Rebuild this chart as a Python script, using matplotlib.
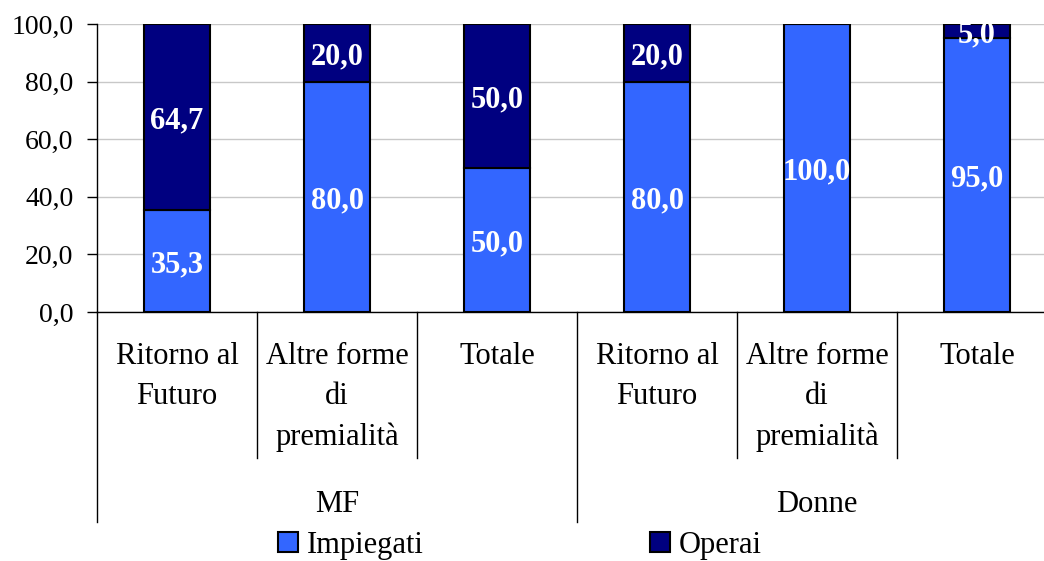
import matplotlib
matplotlib.use("Agg")
import matplotlib.pyplot as plt
from matplotlib.patches import Patch
from matplotlib.ticker import FuncFormatter

plt.rcParams["font.family"] = ["Liberation Serif", "DejaVu Serif"]

groups = ["MF", "Donne"]
categories = ["Ritorno al\nFuturo", "Altre forme\ndi\npremialità", "Totale"] * 2
impiegati = [35.3, 80.0, 50.0, 80.0, 100.0, 95.0]
operai = [64.7, 20.0, 50.0, 20.0, 0.0, 5.0]

c_imp = "#3366FF"
c_ope = "#000080"


def fmt(v):
    return f"{v:.1f}".replace(".", ",")


fig = plt.figure(figsize=(10.44, 5.61), dpi=100)
ax = fig.add_axes([97 / 1044, 1 - 312 / 561, 960 / 1044, 288 / 561])

x = list(range(len(categories)))
ax.bar(x, impiegati, width=0.41, color=c_imp, edgecolor="black", linewidth=1.5, zorder=3)
ax.bar(x, operai, width=0.41, bottom=impiegati, color=c_ope, edgecolor="black", linewidth=1.5, zorder=3)

# value labels, a touch below the segment middle like the original
for xi, a, b in zip(x, impiegati, operai):
    for val, mid in [(a, a / 2), (b, a + b / 2)]:
        if val <= 0:
            continue
        ax.annotate(fmt(val), (xi, mid), xytext=(0, -3), textcoords="offset points",
                    ha="center", va="center", color="white", fontsize=22,
                    fontweight="bold", zorder=4, annotation_clip=False, clip_on=True)

ax.set_xlim(-0.5, len(categories) - 0.5)
ax.set_ylim(0, 100)
ax.set_yticks([0, 20, 40, 60, 80, 100])
ax.yaxis.set_major_formatter(FuncFormatter(lambda v, p: fmt(v)))
ax.tick_params(axis="y", labelsize=20, length=7, width=1, pad=10)
ax.set_xticks([])
ax.grid(axis="y", color="#c8c8c8", linewidth=1, zorder=0)
for s in ["top", "right"]:
    ax.spines[s].set_visible(False)
ax.spines["left"].set_linewidth(1)
ax.spines["bottom"].set_linewidth(1)

trans = ax.get_xaxis_transform()
inner = -(458 - 312) / 288
outer = -(522 - 312) / 288
for i in range(len(categories) + 1):
    xb = i - 0.5
    bottom = outer if i % 3 == 0 else inner
    ax.plot([xb, xb], [0, bottom], color="black", linewidth=1, transform=trans, clip_on=False)

for xi, lab in zip(x, categories):
    ax.text(xi, -(342 - 312) / 288, lab, ha="center", va="top", fontsize=22,
            linespacing=1.5, transform=trans)

for gi, g in enumerate(groups):
    ax.text(gi * 3 + 1, -(504 - 312) / 288, g, ha="center", va="center", fontsize=22,
            transform=trans)

handles = [Patch(facecolor=c_imp, edgecolor="black", linewidth=1.5),
           Patch(facecolor=c_ope, edgecolor="black", linewidth=1.5)]
fig.legend(handles, ["Impiegati", "Operai"], loc="center", bbox_to_anchor=(520 / 1044, 1 - 545 / 561),
           ncol=2, frameon=False, fontsize=22, handlelength=0.65, handleheight=0.65,
           handletextpad=0.3, columnspacing=7.4, borderaxespad=0, borderpad=0)

fig.savefig("out.png", dpi=100)
